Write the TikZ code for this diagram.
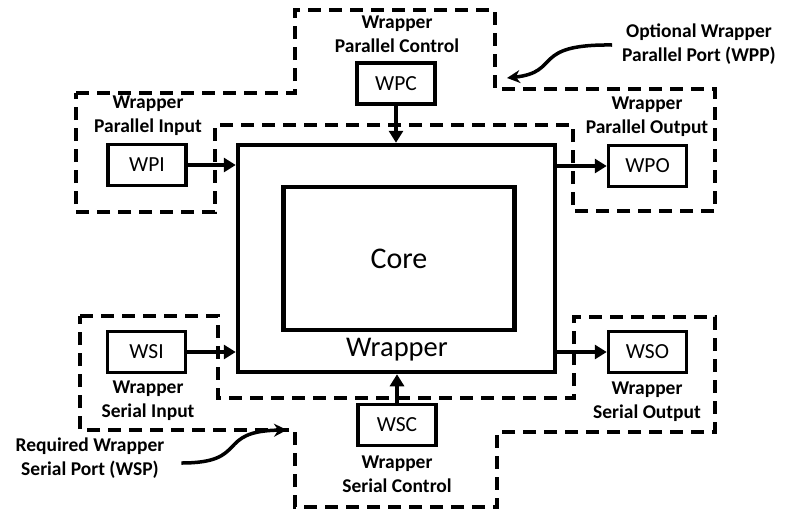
\documentclass[tikz,border=0pt]{standalone}
\usepackage{fontspec}
\setmainfont{Carlito}
\usetikzlibrary{arrows.meta}
\begin{document}
\begin{tikzpicture}[x=1pt,y=-1pt,
 port/.style={draw, line width=3.5pt, minimum width=78pt, minimum height=41pt, inner sep=0pt, font=\fontsize{21.5}{21.5}\selectfont},
 lbl/.style={font=\bfseries\fontsize{19.5}{24}\selectfont, align=center, inner sep=0pt},
 conn/.style={line width=4pt, -{Triangle[length=12pt,width=14pt]}},
 curv/.style={line width=3.5pt, -{Stealth[length=13pt,width=13pt]}},
 zone/.style={line width=4pt, dash pattern=on 13pt off 8pt},
]
\useasboundingbox (0,0) rectangle (787,512);
% dashed port zones
\draw[zone] (76,93) -- (295,93) -- (295,10) -- (495,10) -- (495,89) -- (715,89)
  -- (715,211) -- (573,211) -- (573,125) -- (215,125) -- (215,212) -- (76,212) -- cycle;
\draw[zone] (80,316) -- (218,316) -- (218,398) -- (574,398) -- (574,317) -- (715,317)
  -- (715,432) -- (497,432) -- (497,507) -- (295,507) -- (295,430) -- (80,430) -- cycle;
% wrapper and core
\node[draw, line width=4.5pt, minimum width=317pt, minimum height=227pt, inner sep=0pt] (wrapper) at (396.5,258.5) {};
\node[draw, line width=4.5pt, minimum width=231pt, minimum height=143pt, inner sep=0pt, font=\fontsize{30}{30}\selectfont] (core) at (399,258.5) {Core};
\node[font=\fontsize{28.5}{28.5}\selectfont, inner sep=0pt] (wraplabel) at (397,350) {Wrapper};
% ports
\node[port] (wpi) at (147,165) {WPI};
\node[port] (wpc) at (396,83.5) {WPC};
\node[port] (wpo) at (647.5,166) {WPO};
\node[port] (wsi) at (146.5,352) {WSI};
\node[port] (wso) at (647.5,352) {WSO};
\node[port] (wsc) at (397,425) {WSC};
% labels
\node[lbl] (lwpi) at (148,116) {Wrapper\\Parallel Input};
\node[lbl] (lwpc) at (397,34) {Wrapper\\Parallel Control};
\node[lbl] (lwpo) at (647,117) {Wrapper\\Parallel Output};
\node[lbl] (lwsi) at (148,401) {Wrapper\\Serial Input};
\node[lbl] (lwso) at (647,402) {Wrapper\\Serial Output};
\node[lbl] (lwsc) at (397,474) {Wrapper\\Serial Control};
\node[lbl] (lwpp) at (699,44) {Optional Wrapper\\Parallel Port (WPP)};
\node[lbl] (lwsp) at (90,458) {Required Wrapper\\Serial Port (WSP)};
% connectors
\draw[conn] (wpi.east) -- (wpi.east -| wrapper.west);
\draw[conn] (wsi.east) -- (wsi.east -| wrapper.west);
\draw[conn] (wrapper.east |- wpo.west) -- (wpo.west);
\draw[conn] (wrapper.east |- wso.west) -- (wso.west);
\draw[conn] (wpc.south) -- (wpc.south |- wrapper.north);
\draw[conn] (wsc.north) -- (wsc.north |- wrapper.south);
% pointers
\coordinate (wpptip) at (507,78);
\coordinate (wsptip) at (287,430);
\draw[curv] ([xshift=-10pt]lwpp.west |- 0,45) .. controls (530,44) and (562,72) .. (wpptip);
\draw[curv] ([xshift=17pt]lwsp.east |- 0,463) .. controls (250,463) and (215,431) .. (wsptip);
\end{tikzpicture}
\end{document}
